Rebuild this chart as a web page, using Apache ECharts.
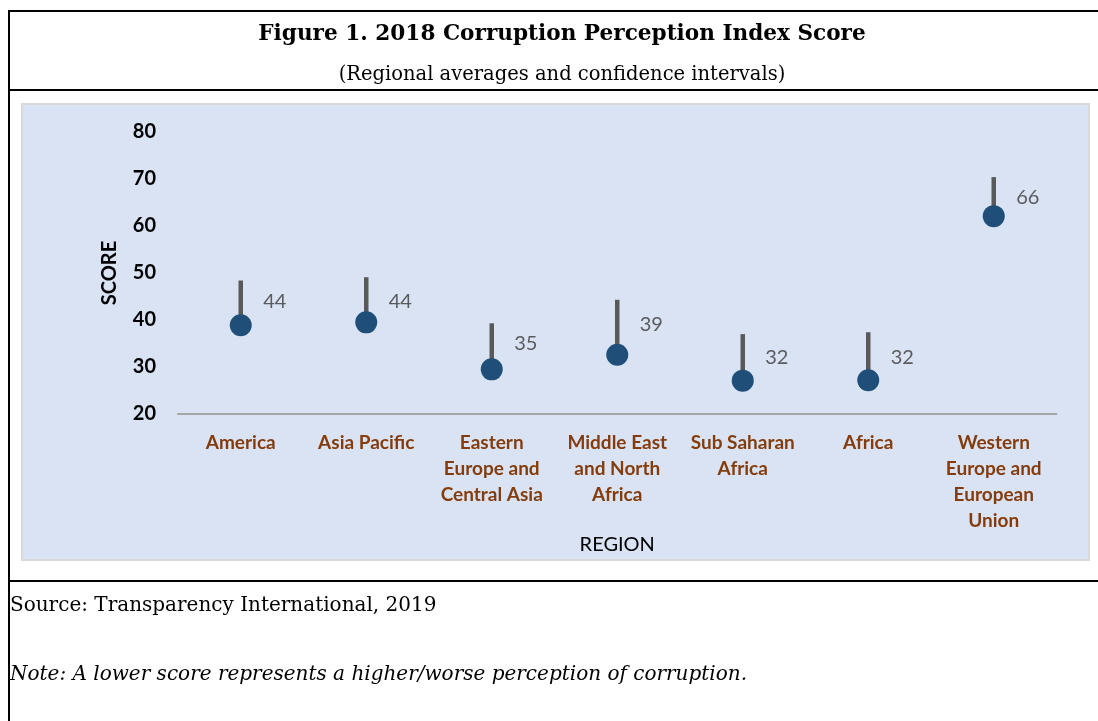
<!DOCTYPE html>
<html>
<head>
<meta charset="utf-8">
<script src="https://cdn.jsdelivr.net/npm/echarts@6/dist/echarts.min.js"></script>
<style>
html,body{margin:0;padding:0;background:#fff;}
#chart{width:1098px;height:721px;}
</style>
</head>
<body>
<div id="chart"></div>
<script>
// ---- data ----
var categories = ['America', 'Asia Pacific', 'Eastern\nEurope and\nCentral Asia', 'Middle East\nand North\nAfrica', 'Sub Saharan\nAfrica', 'Africa', 'Western\nEurope and\nEuropean\nUnion'];
var lowValues = [38.9, 39.5, 29.5, 32.6, 27.1, 27.2, 62.1];
var highValues = [48.4, 49.1, 39.3, 44.3, 37.0, 37.4, 70.4];
var scoreLabels = [44, 44, 35, 39, 32, 32, 66];
var yTicks = [20, 30, 40, 50, 60, 70, 80];

var titleText = 'Figure 1. 2018 Corruption Perception Index Score';
var subtitleText = '(Regional averages and confidence intervals)';
var sourceText = 'Source: Transparency International, 2019';
var noteText = 'Note: A lower score represents a higher/worse perception of corruption.';

var serif = '"DejaVu Serif", "Liberation Serif", serif';
var sans = 'Lato, "Open Sans", sans-serif';

var chart = echarts.init(document.getElementById('chart'), null, {renderer: 'canvas'});

var rangeData = categories.map(function (c, i) { return [i, lowValues[i], highValues[i]]; });
var dotData = categories.map(function (c, i) { return [i, lowValues[i]]; });
var labelData = categories.map(function (c, i) { return [i, scoreLabels[i]]; });

var option = {
  animation: false,
  backgroundColor: '#ffffff',
  graphic: [
    {type: 'rect', z: -10, shape: {x: 22, y: 104, width: 1067, height: 456}, style: {fill: '#dae3f3', stroke: '#d9d9d9', lineWidth: 2}},
    {type: 'line', z: 10, shape: {x1: 9, y1: 11, x2: 1098, y2: 11}, style: {stroke: '#000', lineWidth: 2}},
    {type: 'line', z: 10, shape: {x1: 9, y1: 10, x2: 9, y2: 721}, style: {stroke: '#000', lineWidth: 2}},
    {type: 'line', z: 10, shape: {x1: 9, y1: 90, x2: 1098, y2: 90}, style: {stroke: '#000', lineWidth: 2}},
    {type: 'line', z: 10, shape: {x1: 9, y1: 581, x2: 1098, y2: 581}, style: {stroke: '#000', lineWidth: 2}},
    {type: 'text', z: 10, x: 562, y: 34, style: {text: titleText, font: 'bold 21.6px ' + serif, fill: '#000', align: 'center', verticalAlign: 'middle'}},
    {type: 'text', z: 10, x: 562, y: 75, style: {text: subtitleText, font: '19.5px ' + serif, fill: '#000', align: 'center', verticalAlign: 'middle'}},
    {type: 'text', z: 10, x: 10, y: 606, style: {text: sourceText, font: '20px ' + serif, fill: '#000', align: 'left', verticalAlign: 'middle'}},
    {type: 'text', z: 10, x: 10, y: 675, style: {text: noteText, font: 'italic 20px ' + serif, fill: '#000', align: 'left', verticalAlign: 'middle'}}
  ],
  grid: {left: 178, right: 41.5, top: 132, bottom: 307, containLabel: false},
  xAxis: {
    type: 'category',
    data: categories,
    boundaryGap: true,
    axisLine: {show: true, lineStyle: {color: '#a6a6a6', width: 2}},
    axisTick: {show: false},
    axisLabel: {interval: 0, margin: 16, color: '#843c0c', fontFamily: sans, fontWeight: 'bold', fontSize: 19, lineHeight: 26, align: 'center'},
    name: 'REGION',
    nameLocation: 'middle',
    nameGap: 113,
    nameTextStyle: {color: '#000', fontFamily: sans, fontSize: 20}
  },
  yAxis: {
    type: 'value',
    min: 20, max: 80, interval: 10,
    axisLine: {show: false},
    axisTick: {show: false},
    splitLine: {show: false},
    axisLabel: {margin: 22, color: '#000', fontFamily: sans, fontWeight: 'bold', fontSize: 20},
    name: 'SCORE',
    nameLocation: 'middle',
    nameGap: 58,
    nameTextStyle: {color: '#000', fontFamily: sans, fontWeight: 'bold', fontSize: 20}
  },
  series: [
    {
      type: 'custom',
      z: 2,
      data: rangeData,
      encode: {x: 0, y: [1, 2]},
      renderItem: function (params, api) {
        var p1 = api.coord([api.value(0), api.value(1)]);
        var p2 = api.coord([api.value(0), api.value(2)]);
        return {type: 'line', shape: {x1: p1[0], y1: p1[1], x2: p2[0], y2: p2[1]}, style: {stroke: '#595959', lineWidth: 4.5}};
      }
    },
    {
      type: 'scatter',
      z: 3,
      data: dotData,
      symbol: 'circle',
      symbolSize: 22,
      itemStyle: {color: '#1f4e79', opacity: 1},
      label: {show: false}
    },
    {
      type: 'scatter',
      z: 4,
      data: labelData,
      symbol: 'circle',
      symbolSize: 1,
      itemStyle: {color: 'rgba(0,0,0,0)'},
      label: {
        show: true,
        position: 'right',
        distance: 22,
        color: '#383838',
        fontFamily: sans,
        fontSize: 20,
        formatter: function (p) { return String(p.value[1]); }
      }
    }
  ]
};
chart.setOption(option);
</script>
</body>
</html>
